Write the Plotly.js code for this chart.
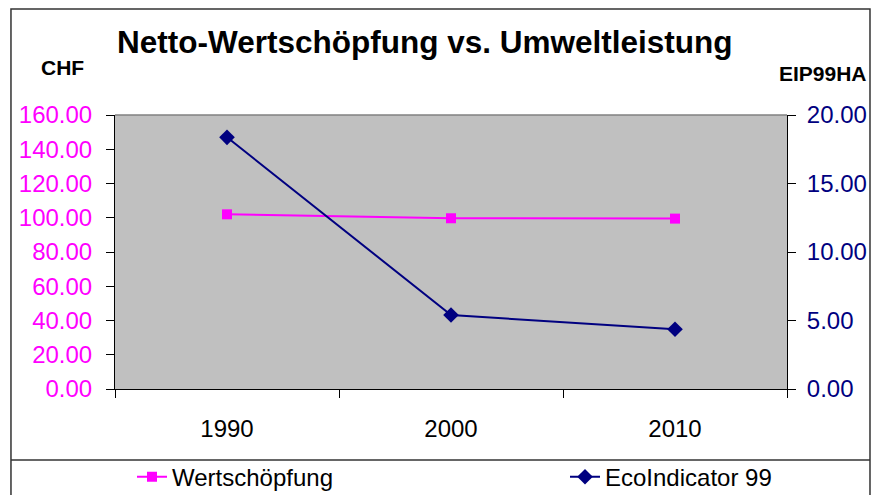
<!DOCTYPE html>
<html>
<head>
<meta charset="utf-8">
<script src="https://cdn.plot.ly/plotly-3.0.1.min.js"></script>
<style>html,body{margin:0;padding:0;background:#fff}#chart{width:885px;height:495px}</style>
</head>
<body>
<div id="chart"></div>
<script>
const years = ['1990', '2000', '2010'];
const wertschoepfung = [102.0, 99.7, 99.5];
const ecoIndicator = [18.37, 5.40, 4.36];
const leftTicks = [0, 20, 40, 60, 80, 100, 120, 140, 160];
const rightTicks = [0, 5, 10, 15, 20];

const FONT = 'Liberation Sans, Arial, sans-serif';
const MAGENTA = '#ff00ff';
const NAVY = '#000080';

const traces = [
  {
    x: years, y: wertschoepfung, name: 'Wertschöpfung', type: 'scatter', mode: 'lines+markers',
    line: {color: MAGENTA, width: 2}, marker: {symbol: 'square', size: 10, color: MAGENTA},
    xaxis: 'x', yaxis: 'y', legend: 'legend', hoverinfo: 'skip'
  },
  {
    x: years, y: ecoIndicator, name: 'EcoIndicator 99', type: 'scatter', mode: 'lines+markers',
    line: {color: NAVY, width: 2}, marker: {symbol: 'diamond', size: 12, color: NAVY},
    xaxis: 'x', yaxis: 'y2', legend: 'legend2', hoverinfo: 'skip'
  }
];

const tickFont = (c) => ({family: FONT, size: 24, color: c});
const legendBase = {
  orientation: 'h', xref: 'container', yref: 'container', xanchor: 'left', y: 0.036, yanchor: 'middle',
  font: {family: FONT, size: 24, color: '#000'}, bgcolor: 'rgba(0,0,0,0)', itemclick: false
};

const layout = {
  width: 885, height: 495,
  margin: {l: 115, r: 98, t: 115, b: 106},
  paper_bgcolor: '#ffffff',
  plot_bgcolor: '#c0c0c0',
  showlegend: true,
  title: {text: '<b>Netto-Wertschöpfung vs. Umweltleistung</b>', font: {family: FONT, size: 31.5, color: '#000'},
          x: 0.48, xref: 'container', xanchor: 'center', y: 0.915, yref: 'container', yanchor: 'middle'},
  xaxis: {
    type: 'category', categoryarray: years, range: [-0.5, 2.5],
    tickson: 'boundaries', ticks: 'outside', ticklen: 8, tickcolor: '#000', tickwidth: 1,
    showline: true, linecolor: '#000', linewidth: 1, showgrid: false, zeroline: false,
    tickfont: tickFont('#000'), ticklabelstandoff: 18, fixedrange: true
  },
  yaxis: {
    range: [0, 160], tickvals: leftTicks, tickformat: '.2f', ticks: 'outside', ticklen: 8,
    tickcolor: '#000', showline: true, linecolor: '#000', linewidth: 1, showgrid: false, zeroline: false,
    tickfont: tickFont(MAGENTA), ticklabelstandoff: 9, fixedrange: true
  },
  yaxis2: {
    range: [0, 20], tickvals: rightTicks, tickformat: '.2f', overlaying: 'y', side: 'right',
    ticks: 'outside', ticklen: 8, tickcolor: '#000', showline: true, linecolor: '#000', linewidth: 1,
    showgrid: false, zeroline: false, tickfont: tickFont(NAVY), ticklabelstandoff: 6, fixedrange: true
  },
  legend: Object.assign({}, legendBase, {x: 132 / 885}),
  legend2: Object.assign({}, legendBase, {x: 565 / 885}),
  annotations: [
    {text: '<b>CHF</b>', xref: 'paper', yref: 'paper', x: -0.078, y: 1.175, showarrow: false,
     xanchor: 'center', yanchor: 'middle', font: {family: FONT, size: 21, color: '#000'}},
    {text: '<b>EIP99HA</b>', xref: 'paper', yref: 'paper', x: 1.1220, y: 1.152, showarrow: false,
     xanchor: 'right', yanchor: 'middle', font: {family: FONT, size: 21, color: '#000'}}
  ],
  shapes: [
    {type: 'rect', xref: 'paper', yref: 'paper', x0: -0.1548, x1: 1.1235, y0: -0.45, y1: 1.3869,
     line: {color: '#333', width: 1.5}, fillcolor: 'rgba(0,0,0,0)', layer: 'below'},
    {type: 'line', xref: 'paper', yref: 'paper', x0: -0.1548, x1: 1.1235, y0: -0.259, y1: -0.259,
     line: {color: '#333', width: 1.5}},
    {type: 'line', xref: 'paper', yref: 'paper', x0: 0, x1: 1, y0: 1, y1: 1,
     line: {color: '#808080', width: 1.5}}
  ]
};

Plotly.newPlot('chart', traces, layout, {displayModeBar: false, staticPlot: true});
</script>
</body>
</html>
